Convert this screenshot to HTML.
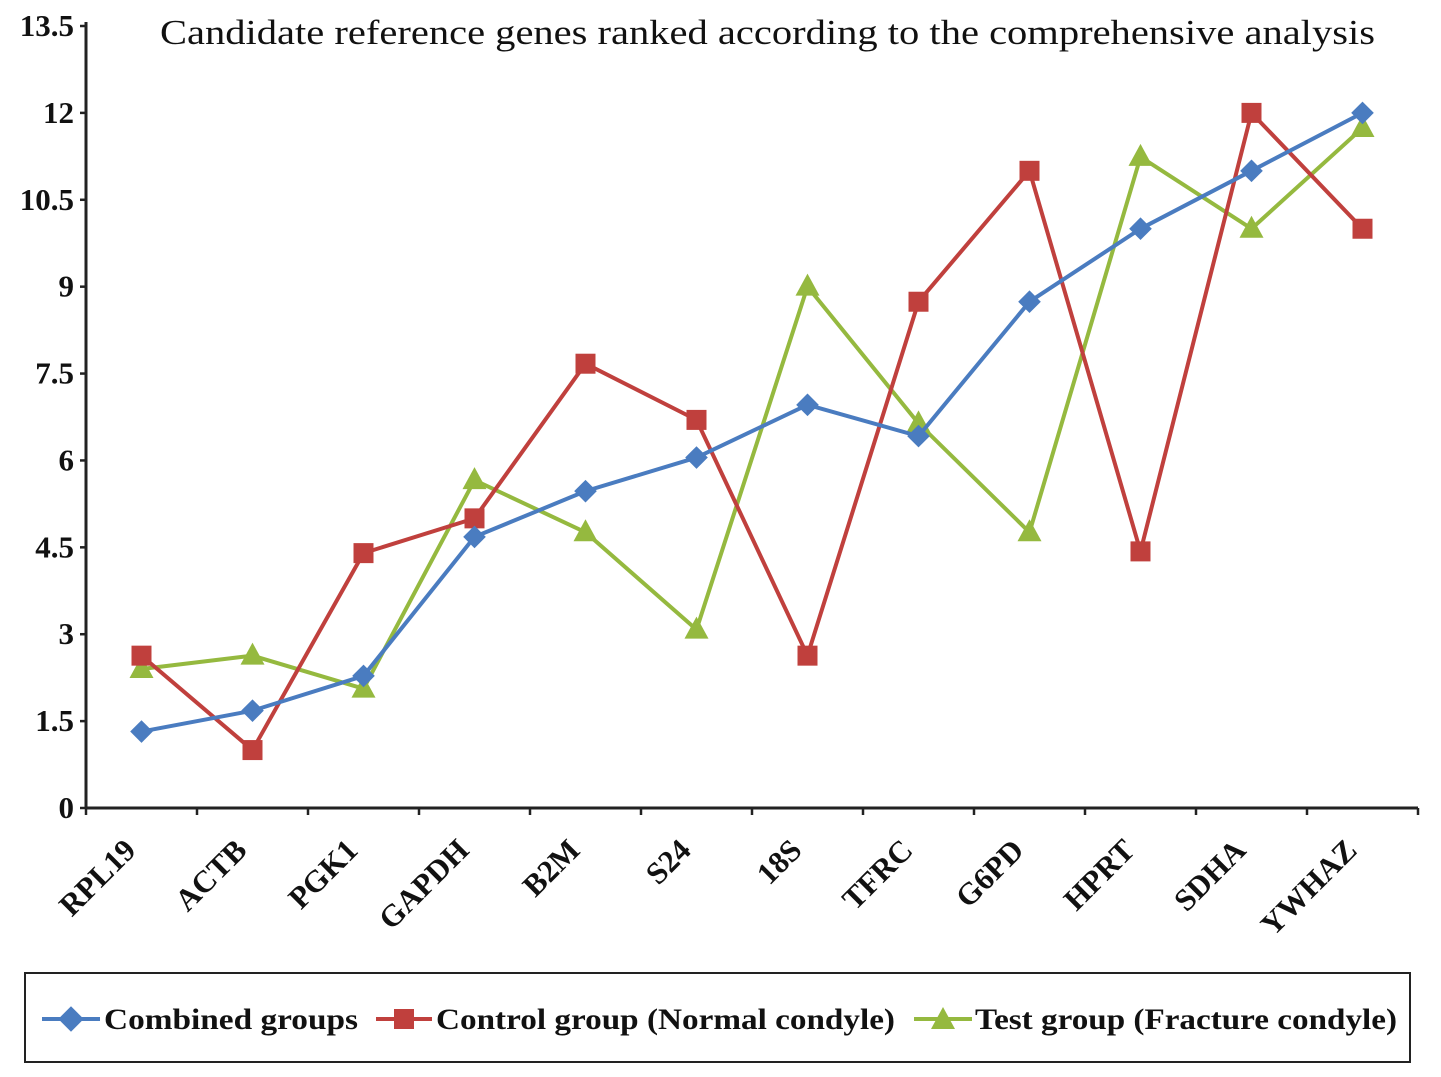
<!DOCTYPE html>
<html><head><meta charset="utf-8"><style>
html,body{margin:0;padding:0;background:#fff;}
svg{display:block;font-family:"Liberation Serif",serif;}
</style></head><body>
<svg id="chart" width="1441" height="1077" viewBox="0 0 1441 1077">
<text x="160" y="44" textLength="1215" lengthAdjust="spacingAndGlyphs" font-size="35" fill="#111">Candidate reference genes ranked according to the comprehensive analysis</text>
<g id="axes"></g>
<g id="series"></g>
<g>
<rect x="25" y="973" width="1385" height="89" fill="#fff" stroke="#222" stroke-width="2"/>
<g>
<line x1="42" y1="1019" x2="100" y2="1019" stroke="#4a7cc0" stroke-width="4"/>
<rect x="62" y="1010" width="18" height="18" fill="#4a7cc0" transform="rotate(45 71 1019)"/>
<text x="104" y="1029" textLength="254" lengthAdjust="spacingAndGlyphs" font-size="30" font-weight="bold" fill="#111">Combined groups</text></g>
<g>
<line x1="376" y1="1019" x2="432" y2="1019" stroke="#c0403d" stroke-width="4"/>
<rect x="394" y="1009" width="20" height="20" fill="#c0403d"/>
<text x="436" y="1029" textLength="459" lengthAdjust="spacingAndGlyphs" font-size="30" font-weight="bold" fill="#111">Control group (Normal condyle)</text></g>
<g>
<line x1="914" y1="1019" x2="972" y2="1019" stroke="#95b93f" stroke-width="4"/>
<polygon points="943,1007 955,1029 931,1029" fill="#95b93f"/>
<text x="975" y="1029" textLength="422" lengthAdjust="spacingAndGlyphs" font-size="30" font-weight="bold" fill="#111">Test group (Fracture condyle)</text></g>
</g>
</svg>
<script>
const categories=["RPL19","ACTB","PGK1","GAPDH","B2M","S24","18S","TFRC","G6PD","HPRT","SDHA","YWHAZ"];
const combined=[1.32,1.68,2.28,4.68,5.47,6.05,6.96,6.42,8.74,10,11,12];
const control=[2.63,1.0,4.4,5.0,7.67,6.7,2.63,8.74,11,4.43,12,10];
const testGroup=[2.4,2.63,2.06,5.66,4.76,3.08,9,6.64,4.76,11.24,10,11.74];
const yTicks=["0","1.5","3","4.5","6","7.5","9","10.5","12","13.5"];
const NS="http://www.w3.org/2000/svg";
const x0=86,x1=1418,y0=808,y1=26,yMax=13.5;
const band=(x1-x0)/categories.length;
const xs=i=>x0+band*(i+0.5);
const ys=v=>y0-(v/yMax)*(y0-y1);
function mk(t,a,p){const e=document.createElementNS(NS,t);for(const k in a)e.setAttribute(k,a[k]);p.appendChild(e);return e;}
const ax=document.getElementById('axes');
const yl=mk('line',{x1:x0,y1:y0,x2:x0,y2:y1-4,stroke:'#222','stroke-width':3},ax);


const xl=mk('line',{x1:x0,y1:y0,x2:x1,y2:y0,stroke:'#222','stroke-width':3},ax);


yTicks.forEach(t=>{const y=ys(parseFloat(t));
mk('line',{x1:x0-6,y1:y,x2:x0,y2:y,stroke:'#222','stroke-width':2.5},ax);
const tx=mk('text',{x:x0-12,y:y+10,'text-anchor':'end','font-size':31,'font-weight':'bold',fill:'#111'},ax);
tx.textContent=t;

});
for(let i=0;i<=categories.length;i++){const x=x0+band*i;mk('line',{x1:x,y1:y0,x2:x,y2:y0+7,stroke:'#222','stroke-width':2.5},ax);}
categories.forEach((c,i)=>{const x=xs(i)-4,y=y0+44;
const tx=mk('text',{x:x,y:y,'text-anchor':'end','font-size':31,'font-weight':'bold',fill:'#111',transform:`rotate(-45 ${x} ${y})`},ax);
tx.textContent=c;

});
const sg=document.getElementById('series');
function series(vals,color,shape,name){
const g=mk('g',{},sg);


mk('polyline',{points:vals.map((v,i)=>xs(i)+','+ys(v)).join(' '),fill:'none',stroke:color,'stroke-width':4,'stroke-linejoin':'round'},g);
vals.forEach((v,i)=>{const x=xs(i),y=ys(v);let m;
if(shape==='d')m=mk('rect',{x:x-8,y:y-8,width:16,height:16,fill:color,transform:`rotate(45 ${x} ${y})`},g);
else if(shape==='s')m=mk('rect',{x:x-10,y:y-10,width:20,height:20,fill:color},g);
else m=mk('polygon',{points:`${x},${y-13} ${x+12},${y+9} ${x-12},${y+9}`,fill:color},g);

});}
series(testGroup,'#95b93f','t','series-test');
series(control,'#c0403d','s','series-control');
series(combined,'#4a7cc0','d','series-combined');
</script>
</body></html>
